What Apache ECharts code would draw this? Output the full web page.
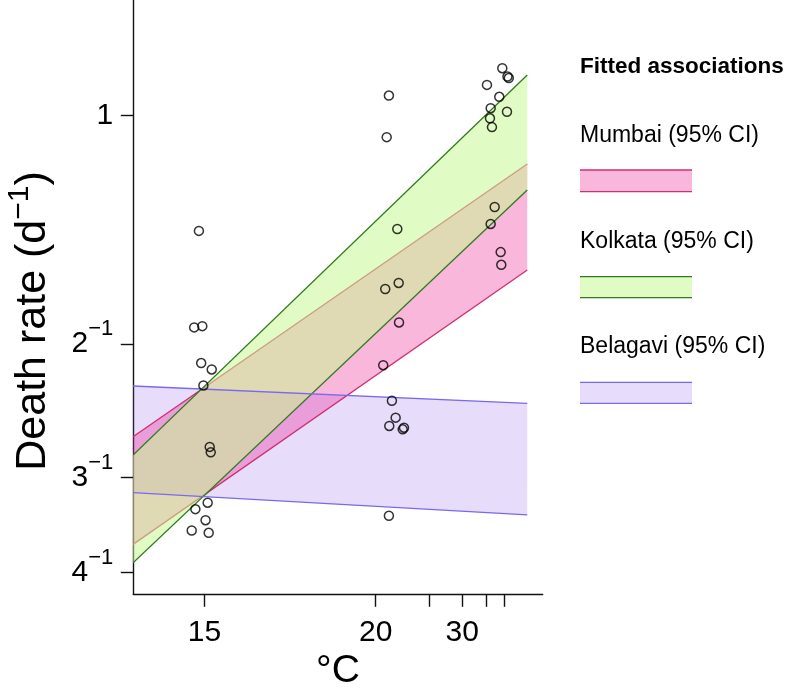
<!DOCTYPE html>
<html>
<head>
<meta charset="utf-8">
<style>
  html, body { margin: 0; padding: 0; background: #fff; }
  #chart { width: 793px; height: 695px; }
</style>
<script src="https://cdn.jsdelivr.net/npm/echarts@6/dist/echarts.min.js"></script>
</head>
<body>
<div id="chart"></div>
<script>
// ---------- data ----------
// observed points: temperature (°C) and death rate (per day)
const obsTemp = [14.95, 14.91, 14.98, 14.97, 15.07, 14.99, 15.05, 15.06, 15.03, 14.92, 15.01, 14.89, 15.04,
                 20.96, 20.79, 21.65, 20.68, 21.77, 21.80, 20.53, 21.20, 21.51, 20.99, 22.13, 22.25, 20.96,
                 39.31, 40.86, 41.27, 35.23, 38.45, 36.15, 40.71, 35.97, 36.48, 37.19, 36.15, 38.84, 39.02];
const obsRate = [0.705, 0.526, 0.528, 0.472, 0.463, 0.441, 0.366, 0.360, 0.309, 0.303, 0.293, 0.284, 0.282,
                 1.063, 0.937, 0.709, 0.591, 0.602, 0.534, 0.469, 0.421, 0.400, 0.390, 0.386, 0.388, 0.297,
                 1.155, 1.126, 1.121, 1.098, 1.059, 1.023, 1.012, 0.992, 0.966, 0.758, 0.720, 0.661, 0.636];

// fitted 95% CI bands (rate at the two ends of the fitted range)
const bandTemp   = [14.55, 47.73];
const mumbaiLo   = [0.2723, 0.6261];
const mumbaiHi   = [0.3775, 0.8637];
const kolkataLo  = [0.2575, 0.7981];
const kolkataHi  = [0.3571, 1.1315];
const belagaviLo = [0.3185, 0.2977];
const belagaviHi = [0.4403, 0.4177];

// axis ticks
const xTickTemps  = [15, 20, 25, 30, 35, 40];
const xLabelTemps = [15, 20, 30];
const yTickRates  = [1, 1/2, 1/3, 1/4];
const xRangeTemp  = [14.551, 54.28];
const yRangeRate  = [0.2340, 1.4206];

const legendNames = ['Mumbai (95% CI)', 'Kolkata (95% CI)', 'Belagavi (95% CI)'];

// ---------- scales ----------
const T_SHIFT = 14.2;
const xu = t => Math.log(t - T_SHIFT);
const yl = r => Math.log(r);

const FONT = "'Liberation Sans', Arial, Helvetica, sans-serif";
const STYLES = {
  mumbai:   { fill: 'rgba(238,18,138,0.30)',  stroke: '#d02f6e' },
  kolkata:  { fill: 'rgba(200,248,148,0.55)', stroke: '#2f7a1e' },
  belagavi: { fill: 'rgba(140,80,235,0.20)',  stroke: '#7b68ee' }
};

function bandSeries(name, lo, hi, st, drawFill, drawLines) {
  const pts = bandTemp.map((t, i) => [xu(t), yl(lo[i]), yl(hi[i])]);
  return {
    type: 'custom', name: name, data: pts, silent: true, clip: true,
    encode: { x: 0, y: [1, 2] },
    renderItem: function (params, api) {
      if (params.dataIndex !== 0) return null;
      const up = pts.map(p => api.coord([p[0], p[2]]));
      const dn = pts.map(p => api.coord([p[0], p[1]]));
      const children = [];
      if (drawFill) children.push({ type: 'polygon', shape: { points: up.concat(dn.slice().reverse()) }, style: { fill: st.fill } });
      if (drawLines) {
        children.push({ type: 'polyline', shape: { points: up }, style: { stroke: st.stroke, lineWidth: 1.3, fill: null } });
        children.push({ type: 'polyline', shape: { points: dn }, style: { stroke: st.stroke, lineWidth: 1.3, fill: null } });
      }
      return { type: 'group', children: children };
    }
  };
}

const points = obsTemp.map((t, i) => [xu(t), yl(obsRate[i])]);

// legend graphics
const legendX = 580, legendW = 112;
const legendRows = [
  { text: legendNames[0], ty: 135.2, y1: 170, y2: 191.7, st: STYLES.mumbai },
  { text: legendNames[1], ty: 241.8, y1: 276.7, y2: 297.7, st: STYLES.kolkata },
  { text: legendNames[2], ty: 347.0, y1: 382.3, y2: 403.3, st: STYLES.belagavi }
];
const graphics = [
  { type: 'text', x: legendX, y: 66.3, silent: true,
    style: { text: 'Fitted associations', fontSize: 22.5, fontWeight: 'bold', fontFamily: FONT, fill: '#000',
             align: 'left', verticalAlign: 'middle' } },
  { type: 'text', x: 33.5, y: 321, rotation: Math.PI / 2, silent: true,
    style: { text: '{n|Death rate (d}{s|−1}{n|)}', align: 'center', verticalAlign: 'middle', fill: '#000',
             rich: { n: { fontSize: 43, fontFamily: FONT, lineHeight: 58 },
                     s: { fontSize: 30, fontFamily: FONT, lineHeight: 30, verticalAlign: 'top' } } } }
];
legendRows.forEach(r => {
  graphics.push({ type: 'text', x: legendX, y: r.ty, silent: true,
    style: { text: r.text, fontSize: 23, fontFamily: FONT, fill: '#000', align: 'left', verticalAlign: 'middle' } });
  graphics.push({ type: 'rect', shape: { x: legendX, y: r.y1, width: legendW, height: r.y2 - r.y1 }, silent: true,
    style: { fill: r.st.fill } });
  graphics.push({ type: 'line', shape: { x1: legendX, y1: r.y1, x2: legendX + legendW, y2: r.y1 }, silent: true,
    style: { stroke: r.st.stroke, lineWidth: 1.3 } });
  graphics.push({ type: 'line', shape: { x1: legendX, y1: r.y2, x2: legendX + legendW, y2: r.y2 }, silent: true,
    style: { stroke: r.st.stroke, lineWidth: 1.3 } });
});

const chart = echarts.init(document.getElementById('chart'), null, { renderer: 'canvas' });
chart.setOption({
  animation: false,
  backgroundColor: '#fff',
  grid: { left: 133.3, right: 250.3, top: 0, bottom: 100.7, containLabel: false, outerBoundsMode: 'none' },
  xAxis: {
    type: 'value',
    min: xu(xRangeTemp[0]), max: xu(xRangeTemp[1]),
    name: '°C', nameLocation: 'middle', nameGap: 57,
    nameTextStyle: { fontSize: 39, fontFamily: FONT, color: '#000' },
    axisLine: { show: true, onZero: false, lineStyle: { color: '#111', width: 1.4 } },
    axisTick: { show: true, length: 12.5, inside: false, lineStyle: { color: '#111', width: 1.4 },
                customValues: xTickTemps.map(xu) },
    axisLabel: { show: true, margin: 23, fontSize: 30, fontFamily: FONT, color: '#000',
                 customValues: xLabelTemps.map(xu),
                 formatter: v => String(Math.round(Math.exp(v) + T_SHIFT)) },
    splitLine: { show: false }
  },
  yAxis: {
    type: 'value',
    min: yl(yRangeRate[0]), max: yl(yRangeRate[1]),
    axisLine: { show: true, onZero: false, lineStyle: { color: '#111', width: 1.4 } },
    axisTick: { show: true, length: 12.5, inside: false, lineStyle: { color: '#111', width: 1.4 },
                customValues: yTickRates.map(yl) },
    axisLabel: { show: true, margin: 20, color: '#000',
                 customValues: yTickRates.map(yl),
                 formatter: v => { const n = Math.round(Math.exp(-v)); return n === 1 ? '{n|1}' : '{n|' + n + '}{s|−1}'; },
                 rich: { n: { fontSize: 30, fontFamily: FONT, lineHeight: 52, color: '#000' },
                         s: { fontSize: 22, fontFamily: FONT, lineHeight: 22, color: '#000', verticalAlign: 'top' } } },
    splitLine: { show: false }
  },
  series: [
    bandSeries('Belagavi fill', belagaviLo, belagaviHi, STYLES.belagavi, true, false),
    bandSeries('Mumbai', mumbaiLo, mumbaiHi, STYLES.mumbai, true, true),
    bandSeries('Kolkata', kolkataLo, kolkataHi, STYLES.kolkata, true, true),
    bandSeries('Belagavi', belagaviLo, belagaviHi, STYLES.belagavi, false, true),
    { type: 'scatter', data: points, symbol: 'circle', symbolSize: 9, silent: true,
      itemStyle: { color: 'rgba(0,0,0,0)', borderColor: '#000', borderWidth: 1.5 } }
  ],
  graphic: graphics
});
</script>
</body>
</html>
